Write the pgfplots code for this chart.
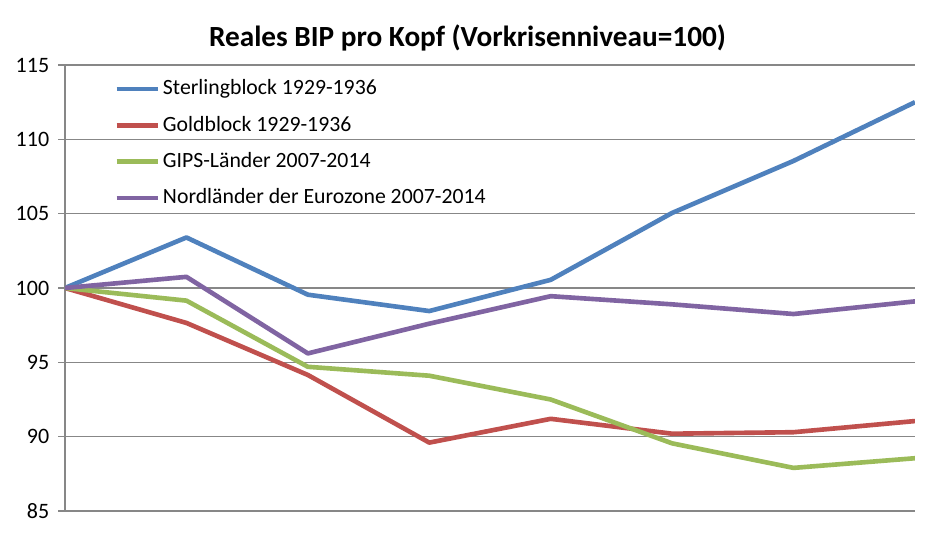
\documentclass[border=0pt]{standalone}
\usepackage{pgfplots}
\pgfplotsset{compat=1.18}
\usepackage{fontspec}
\setmainfont{Carlito}
\definecolor{cblue}{HTML}{4F81BD}
\definecolor{cred}{HTML}{C0504D}
\definecolor{cgreen}{HTML}{9BBB59}
\definecolor{cpurple}{HTML}{8064A2}
\definecolor{gridgray}{HTML}{878787}
\begin{document}
\begin{tikzpicture}
\path[use as bounding box] (0pt,0pt) rectangle (374pt,219.6pt);
\node[font=\bfseries\fontsize{11.7}{14}\selectfont] at (187pt,204.6pt) {Reales BIP pro Kopf (Vorkrisenniveau=100)};
\begin{axis}[
  at={(26pt,15.2pt)}, anchor=south west,
  scale only axis, width=340pt, height=178.4pt,
  xmin=0, xmax=7, ymin=85, ymax=115,
  ytick={85,90,...,115}, xtick=\empty,
  ymajorgrids, grid style={color=gridgray, line width=0.5pt},
  axis x line=none, axis y line*=left,
  y axis line style={color=gridgray, line width=0.5pt},
  tick align=outside, major tick length=2.8pt,
  ytick style={color=gridgray, line width=0.5pt},
  /pgf/number format/assume math mode=true,
  yticklabel style={font=\fontsize{8.8}{10.5}\selectfont},
  legend cell align=left,
  legend style={at={(0.0575,0.975)}, anchor=north west, draw=none, fill=none,
    font=\fontsize{8.7}{10.4}\selectfont, row sep=4.6pt, inner sep=0pt,
    nodes={inner sep=1.2pt}},
  legend image code/.code={\draw[#1] (0pt,0pt) -- (16.4pt,0pt);},
  every axis plot/.append style={line width=1.85pt, line join=round, no markers},
]
\addplot[cblue] coordinates {(0,100) (1,103.4) (2,99.55) (3,98.45) (4,100.55) (5,105.05) (6,108.55) (7,112.5)};
\addlegendentry{Sterlingblock 1929-1936}
\addplot[cred] coordinates {(0,100) (1,97.65) (2,94.15) (3,89.6) (4,91.2) (5,90.2) (6,90.3) (7,91.05)};
\addlegendentry{Goldblock 1929-1936}
\addplot[cgreen] coordinates {(0,100) (1,99.15) (2,94.7) (3,94.1) (4,92.5) (5,89.55) (6,87.9) (7,88.55)};
\addlegendentry{GIPS-Länder 2007-2014}
\addplot[cpurple] coordinates {(0,100) (1,100.75) (2,95.6) (3,97.6) (4,99.45) (5,98.9) (6,98.25) (7,99.1)};
\addlegendentry{Nordländer der Eurozone 2007-2014}
\end{axis}
\end{tikzpicture}
\end{document}
